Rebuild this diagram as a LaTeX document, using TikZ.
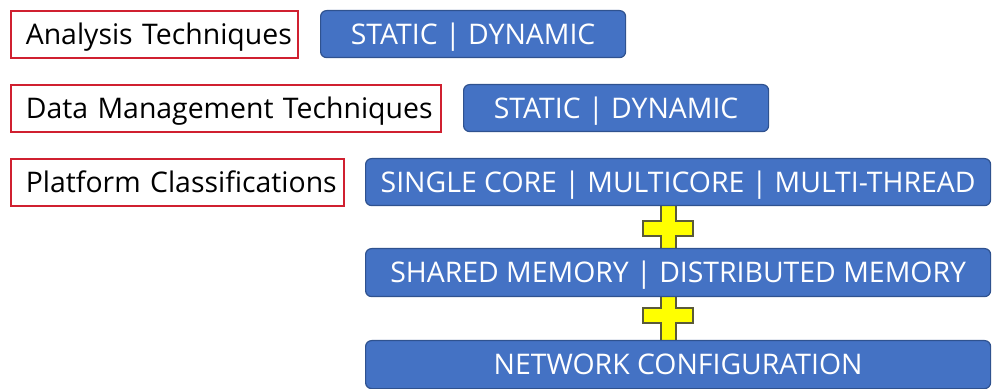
\documentclass[tikz,border=0pt]{standalone}
\usepackage{fontspec}
\setmainfont{Open Sans}
\definecolor{boxblue}{HTML}{4472C4}
\definecolor{boxedge}{HTML}{2F528F}
\definecolor{redline}{HTML}{D02030}
\definecolor{plusyellow}{HTML}{FFFF00}
\definecolor{plusedge}{HTML}{5A5A3A}
\begin{document}
\begin{tikzpicture}[x=0.5pt,y=-0.5pt,
  label box/.style={draw=redline, line width=0.8pt, fill=white, anchor=north west, inner xsep=0pt, inner ysep=0pt, align=left, text height=10.1pt, text depth=0pt, font=\fontsize{14.2}{16}\selectfont, text=black},
  blue box/.style={draw=boxedge, line width=0.6pt, fill=boxblue, rounded corners=3pt, anchor=north west, inner sep=0pt, text height=10.1pt, text depth=0pt, font=\fontsize{14.2}{16}\selectfont, text=white},
  plus/.style={fill=plusyellow, draw=plusedge, line width=0.6pt}]
\useasboundingbox (0,0) rectangle (1000,389);
% crosses (behind boxes)
\draw[plus] (661,203) -- (676,203) -- (676,221) -- (693,221) -- (693,236) -- (676,236) -- (676,250) -- (661,250) -- (661,236) -- (643,236) -- (643,221) -- (661,221) -- cycle;
\draw[plus] (661,294) -- (676,294) -- (676,308) -- (693,308) -- (693,323) -- (676,323) -- (676,342) -- (661,342) -- (661,323) -- (643,323) -- (643,308) -- (661,308) -- cycle;
% label boxes
\node[label box, text width=143.5pt, minimum height=23.5pt] (at) at (10,10) {\hspace*{7.5pt}\mbox{Analysis Techniques}};
\node[label box, text width=215pt, minimum height=23.5pt] (dm) at (10,84) {\hspace*{7.5pt}\mbox{Data Management Techniques}};
\node[label box, text width=166.5pt, minimum height=23.5pt] (pc) at (10,158) {\hspace*{7.5pt}\mbox{Platform Classifications}};
% blue boxes
\node[blue box, minimum width=152.5pt, minimum height=23.5pt] (b1) at (320,10) {STATIC | DYNAMIC};
\node[blue box, minimum width=152.5pt, minimum height=23.5pt] (b2) at (463,84) {STATIC | DYNAMIC};
\node[blue box, minimum width=312.5pt, minimum height=23.5pt] (b3) at (365,158) {SINGLE CORE | MULTICORE | MULTI-THREAD};
\node[blue box, minimum width=312.5pt, minimum height=24pt] (b4) at (365,248) {SHARED MEMORY | DISTRIBUTED MEMORY};
\node[blue box, minimum width=312.5pt, minimum height=24pt] (b5) at (365,340) {NETWORK CONFIGURATION};
\end{tikzpicture}
\end{document}
